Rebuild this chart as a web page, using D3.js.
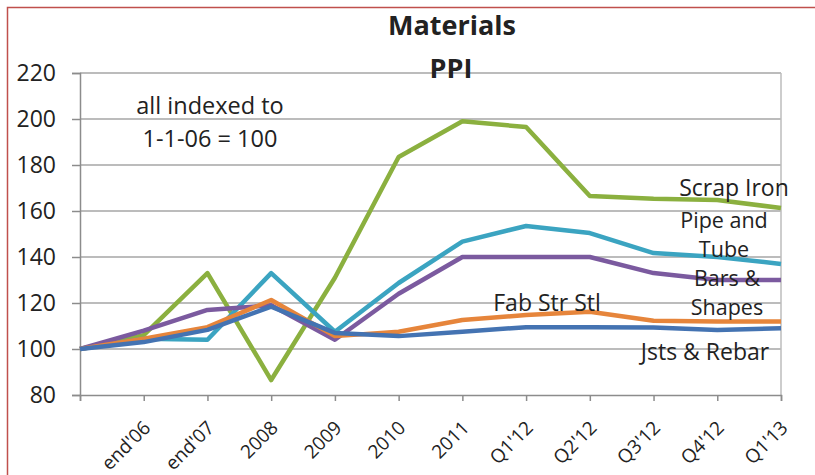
<!DOCTYPE html>
<html>
<head>
<meta charset="utf-8">
<script src="https://cdn.jsdelivr.net/npm/d3@7"></script>
<style>
  html, body { margin: 0; padding: 0; background: #fff; }
  svg { display: block; }
  text { font-family: "Open Sans", sans-serif; fill: #222; }
</style>
</head>
<body>
<svg id="chart" width="815" height="475"></svg>
<script>
const categories = ["", "end'06", "end'07", "2008", "2009", "2010", "2011", "Q1'12", "Q2'12", "Q3'12", "Q4'12", "Q1'13"];
const yTicks = [80, 100, 120, 140, 160, 180, 200, 220];

const scrapIron   = [100, 106, 133, 86.5, 131, 183.5, 199, 196.5, 166.5, 165.3, 164.8, 161.3];
const pipeTube    = [100, 104.5, 104, 133, 107.5, 128.7, 146.7, 153.5, 150.4, 141.7, 140, 137];
const barsShapes  = [100, 108, 117, 119, 104, 124, 140, 140, 140, 133, 130, 130];
const fabStrStl   = [100, 104.5, 109.5, 121.3, 105.6, 107.5, 112.6, 114.8, 116.2, 112.3, 112, 112];
const jstsRebar   = [100, 103, 108.3, 118.4, 107, 105.6, 107.5, 109.5, 109.5, 109.3, 108.3, 109];

const seriesNames  = ["Scrap Iron", "Pipe and Tube", "Bars & Shapes", "Fab Str Stl", "Jsts & Rebar"];
const seriesValues = [scrapIron, pipeTube, barsShapes, fabStrStl, jstsRebar];
const seriesColors = ["#8BB03F", "#3BA4C1", "#7B5A9F", "#E6853B", "#4473B2"];

const svg = d3.select("#chart");
const pLeft = 80, pRight = 781, pTop = 73, pBottom = 395;

const x = d3.scalePoint().domain(categories).range([pLeft, pRight]);
const y = d3.scaleLinear().domain([80, 220]).range([pBottom, pTop]);

// red outer border (top & left)
svg.append("path")
  .attr("d", "M7.5,475 L7.5,7.5 L815,7.5")
  .attr("fill", "none").attr("stroke", "#C0504D").attr("stroke-width", 1.5);

// gridlines
svg.append("g").selectAll("line").data(yTicks.filter(d => d > 80)).join("line")
  .attr("x1", pLeft).attr("x2", pRight)
  .attr("y1", d => y(d)).attr("y2", d => y(d))
  .attr("stroke", "#A6A6A6").attr("stroke-width", 1.5);

// right border of plot
svg.append("line").attr("x1", pRight).attr("x2", pRight).attr("y1", pTop).attr("y2", pBottom)
  .attr("stroke", "#BDBDBD").attr("stroke-width", 1.5);

// y axis
const yAxis = d3.axisLeft(y).tickValues(yTicks).tickSize(8).tickPadding(8);
const gy = svg.append("g").attr("transform", `translate(${pLeft},0)`).call(yAxis);
gy.select(".domain").attr("stroke", "#8C8C8C").attr("stroke-width", 1.5);
gy.selectAll(".tick line").attr("stroke", "#8C8C8C").attr("stroke-width", 1.5);
gy.selectAll(".tick text").attr("font-size", 23).attr("font-family", "Open Sans").attr("fill", "#222")
  .attr("x", -24);

// x axis
const xAxis = d3.axisBottom(x).tickSize(6).tickFormat("");
const gx = svg.append("g").attr("transform", `translate(0,${pBottom})`).call(xAxis);
gx.select(".domain").attr("stroke", "#8C8C8C").attr("stroke-width", 1.5);
gx.selectAll(".tick line").attr("stroke", "#8C8C8C").attr("stroke-width", 1.5);

svg.append("g").selectAll("text").data(categories.filter(c => c !== "")).join("text")
  .attr("transform", d => `translate(${x(d) + 8},${pBottom + 34}) rotate(-45)`)
  .attr("text-anchor", "end")
  .attr("font-size", 19)
  .text(d => d);

// lines
const line = d3.line().x((d, i) => x(categories[i])).y(d => y(d));
svg.append("g").selectAll("path").data(seriesValues).join("path")
  .attr("d", d => line(d))
  .attr("fill", "none")
  .attr("stroke", (d, i) => seriesColors[i])
  .attr("stroke-width", 4.5)
  .attr("stroke-linejoin", "round");

// title
svg.append("text").attr("x", 452).attr("y", 35).attr("text-anchor", "middle")
  .attr("font-size", 27).attr("font-weight", "bold").text("Materials");
svg.append("text").attr("x", 451).attr("y", 78).attr("text-anchor", "middle")
  .attr("font-size", 27).attr("font-weight", "bold").text("PPI");

// note
svg.append("text").attr("x", 210).attr("y", 114).attr("text-anchor", "middle")
  .attr("font-size", 23.5).text("all indexed to");
svg.append("text").attr("x", 210).attr("y", 147).attr("text-anchor", "middle")
  .attr("font-size", 23.5).text("1-1-06 = 100");

// series labels
const labelLines = [
  { t: "Scrap Iron", x: 734, y: 196, s: 23 },
  { t: "Pipe and", x: 724, y: 228, s: 21.5 },
  { t: "Tube", x: 724, y: 257, s: 21.5 },
  { t: "Bars &", x: 727, y: 286, s: 21.5 },
  { t: "Shapes", x: 727, y: 315, s: 21.5 },
  { t: "Fab Str Stl", x: 547, y: 311, s: 23 },
  { t: "Jsts & Rebar", x: 705, y: 360, s: 23 }
];
svg.append("g").selectAll("text").data(labelLines).join("text")
  .attr("x", d => d.x).attr("y", d => d.y).attr("text-anchor", "middle")
  .attr("font-size", d => d.s).text(d => d.t);
</script>
</body>
</html>
